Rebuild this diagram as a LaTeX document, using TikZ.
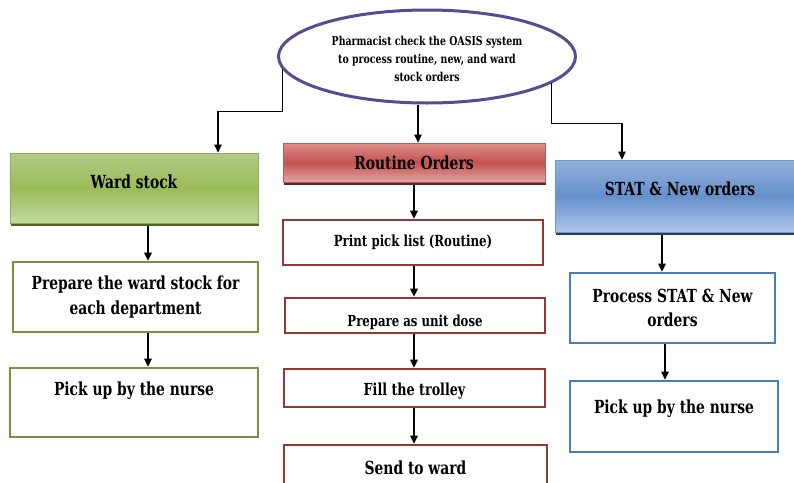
\documentclass[tikz,border=0pt]{standalone}
\usepackage{fontspec}
\setmainfont{DejaVu Serif}[FakeStretch=0.77]
\usetikzlibrary{arrows.meta,shadows,calc,shapes.geometric}
\definecolor{gborder}{HTML}{77933C}
\definecolor{rborder}{HTML}{953735}
\definecolor{bborder}{HTML}{4A7EBB}
\definecolor{purp}{HTML}{5C4A8F}
\definecolor{gtop}{HTML}{B3CB85}
\definecolor{gmid}{HTML}{9BBB59}
\definecolor{gbot}{HTML}{C4D99C}
\definecolor{gshadow}{HTML}{4F6228}
\definecolor{rtop}{HTML}{DC8E8C}
\definecolor{rmid}{HTML}{C4524F}
\definecolor{rbot}{HTML}{E2A4A2}
\definecolor{rshadow}{HTML}{632523}
\definecolor{btop}{HTML}{93B2DC}
\definecolor{bmid}{HTML}{6690CC}
\definecolor{bbot}{HTML}{AFC7E9}
\definecolor{bshadow}{HTML}{244061}
\newcommand{\shifttxt}[2]{\raisebox{#1}[\height][\depth]{#2}}
\tikzset{
  arr/.style={line width=1.1pt, draw=black, -{Triangle[length=8pt,width=7.5pt]}},
  bigtxt/.style={font=\bfseries\fontsize{18}{24.5}\selectfont, align=center},
  wbox/.style={draw, fill=white, line width=2.6pt, inner sep=0pt, bigtxt},
  gbox/.style={draw=gborder!80!white, line width=0.8pt, top color=gtop, bottom color=gbot, middle color=gmid, inner sep=0pt, bigtxt,
     drop shadow={shadow xshift=1pt, shadow yshift=-2.5pt, fill=gshadow, opacity=1}},
  rbox/.style={draw=rborder!80!white, line width=0.8pt, top color=rtop, bottom color=rbot, middle color=rmid, inner sep=0pt, bigtxt,
     drop shadow={shadow xshift=1pt, shadow yshift=-2.5pt, fill=rshadow, opacity=1}},
  bbox/.style={draw=bborder!80!white, line width=0.8pt, top color=btop, bottom color=bbot, middle color=bmid, inner sep=0pt, bigtxt,
     drop shadow={shadow xshift=1pt, shadow yshift=-2.5pt, fill=bshadow, opacity=1}},
}
\begin{document}
\begin{tikzpicture}[x=1pt,y=-1pt]
\useasboundingbox (0,0) rectangle (794,482);
\clip (0,0) rectangle (794,482);
\fill[white] (0,0) rectangle (794,482);

% Ellipse
\node[ellipse, draw=purp, line width=3pt, fill=white, minimum width=297pt, minimum height=93pt, inner sep=0pt,
      font=\bfseries\fontsize{12.2}{18}\selectfont, align=center] (e) at (427,56.5)
  {\shifttxt{-3pt}{\begin{tabular}{@{}c@{}}Pharmacist check the OASIS system\\ to process routine, new, and ward\\ stock orders\end{tabular}}};

% Left column
\node[gbox, minimum width=248pt, minimum height=70pt] (ward) at (134,188) {\shifttxt{6pt}{Ward stock}};
\node[wbox, draw=gborder, minimum width=245pt, minimum height=70pt] (prep) at (135.5,297) {Prepare the ward stock for\\ each department};
\node[wbox, draw=gborder, minimum width=248pt, minimum height=69pt] (lpick) at (134,402.5) {\shifttxt{12pt}{Pick up by the nurse}};

% Middle column
\node[rbox, minimum width=262pt, minimum height=39pt] (rout) at (414,162.5) {Routine Orders};
\node[wbox, draw=rborder, minimum width=260pt, minimum height=45pt, font=\bfseries\fontsize{15.3}{18}\selectfont] (print) at (413,242.5) {Print pick list (Routine)};
\node[wbox, draw=rborder, minimum width=260pt, minimum height=35pt, font=\bfseries\fontsize{15.2}{18}\selectfont] (unit) at (415,315.5) {\shifttxt{-7pt}{Prepare as unit dose}};
\node[wbox, draw=rborder, minimum width=261pt, minimum height=38pt, font=\bfseries\fontsize{16.5}{18}\selectfont] (fill) at (414.5,388) {\shifttxt{-3.5pt}{Fill the trolley}};
\node[wbox, draw=rborder, minimum width=263pt, minimum height=50pt] (send) at (415.5,470) {\shifttxt{2.5pt}{Send to ward}};

% Right column
\node[bbox, minimum width=250pt, minimum height=72pt] (stat) at (680,196) {\shifttxt{7pt}{STAT \& New orders}};
\node[wbox, draw=bborder, minimum width=205pt, minimum height=70pt] (proc) at (672.5,308) {Process STAT \& New\\ orders};
\node[wbox, draw=bborder, minimum width=208pt, minimum height=71pt] (rpick) at (674,416.5) {\shifttxt{8pt}{Pick up by the nurse}};

% Connectors from ellipse
\draw[arr] (e.185.5) -- ++(0,42) -| ([xshift=84pt]ward.north);
\draw[arr] ([xshift=-9pt]e.south) -- ([xshift=4pt]rout.north);
\draw[arr] (e.348.1) -- ++(0,40) -| ([xshift=-58pt]stat.north);

% Left column arrows
\draw[arr] ($(ward.south)+(14,2.5)$) -- ($(prep.north)+(12.5,0)$);
\draw[arr] ($(prep.south)+(12.5,0)$) -- ($(lpick.north)+(14,0)$);

% Middle column arrows
\draw[arr] ($(rout.south)+(0,2.5)$) -- (print.north -| rout.south);
\draw[arr] (print.south -| rout.south) -- (unit.north -| rout.south);
\draw[arr] (unit.south -| rout.south) -- (fill.north -| rout.south);
\draw[arr] (fill.south -| rout.south) -- (send.north -| rout.south);

% Right column arrows
\draw[arr] ($(stat.south)+(-18,2.5)$) -- ($(proc.north)+(-10.5,0)$);
\draw[arr] ($(proc.south)+(-7.5,0)$) -- ($(rpick.north)+(-9,0)$);
\end{tikzpicture}
\end{document}
